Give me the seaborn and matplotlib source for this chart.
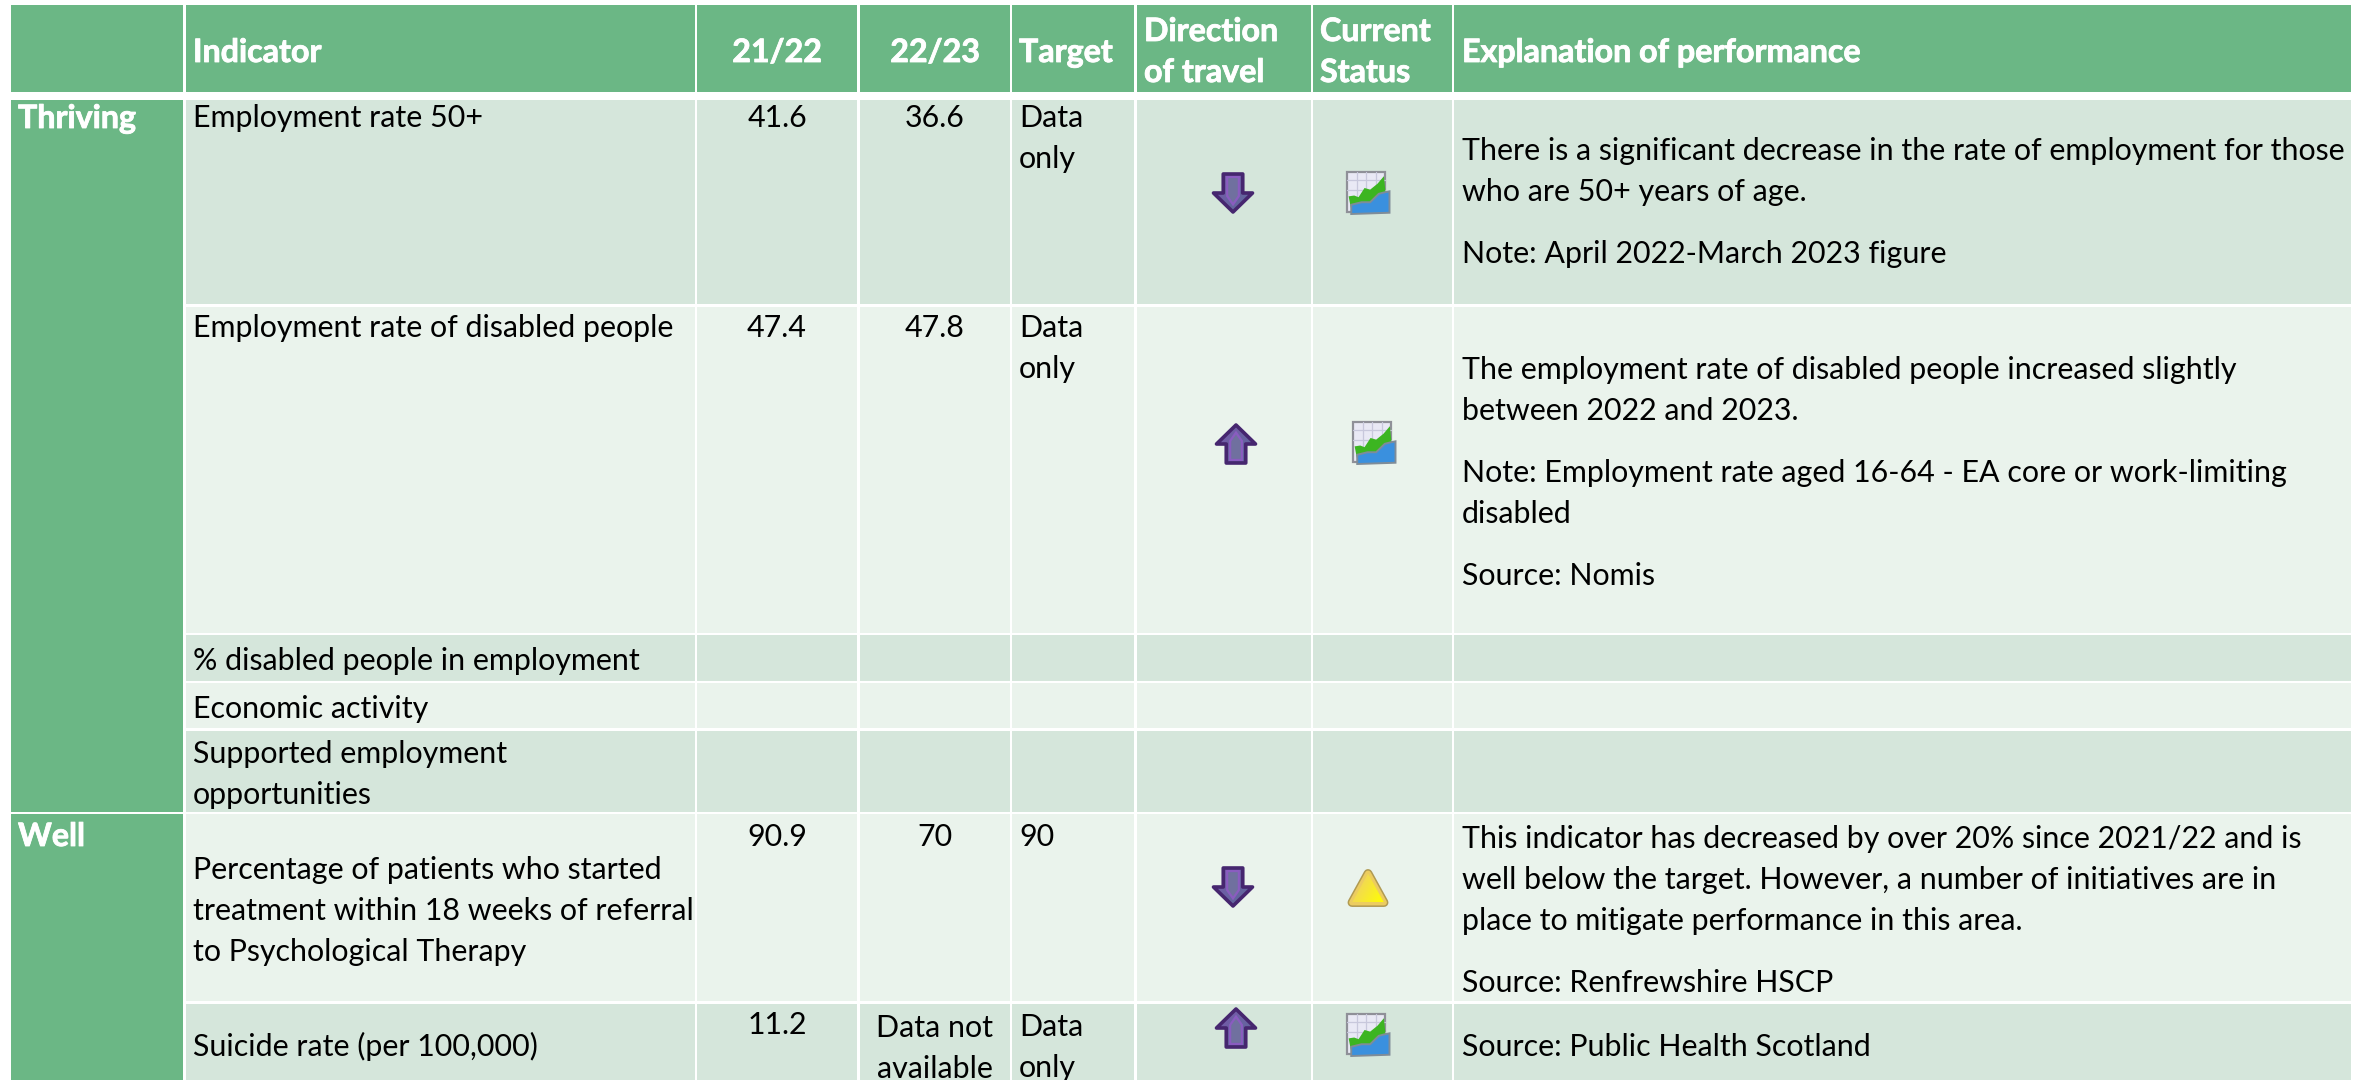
import numpy as np
import matplotlib
matplotlib.use("Agg")
import matplotlib.pyplot as plt
import matplotlib.patheffects as pe
from matplotlib.colors import ListedColormap
from matplotlib.patches import Polygon, Rectangle
from matplotlib.textpath import TextPath
from matplotlib.font_manager import FontProperties
import seaborn as sns

# ---------- content ----------
headers = ["", "Indicator", "21/22", "22/23", "Target", "Direction\nof travel", "Current\nStatus", "Explanation of performance"]
outcomes = ["Thriving", "Well"]
indicators = ["Employment rate 50+", "Employment rate of disabled people", "% disabled people in employment",
              "Economic activity", "Supported employment\nopportunities",
              "Percentage of patients who started\ntreatment within 18 weeks of referral\nto Psychological Therapy",
              "Suicide rate (per 100,000)"]
values_2122 = ["41.6", "47.4", "", "", "", "90.9", "11.2"]
values_2223 = ["36.6", "47.8", "", "", "", "70", "Data not\navailable"]
targets = ["Data\nonly", "Data\nonly", "", "", "", "90", "Data\nonly"]
directions = ["down", "up", None, None, None, "down", "up"]
statuses = ["chart", "chart", None, None, None, "warn", "chart"]
explanations = [
    ["There is a significant decrease in the rate of employment for those\nwho are 50+ years of age.", "Note: April 2022-March 2023 figure"],
    ["The employment rate of disabled people increased slightly\nbetween 2022 and 2023.",
     "Note: Employment rate aged 16-64 - EA core or work-limiting\ndisabled", "Source: Nomis"],
    [], [], [],
    ["This indicator has decreased by over 20% since 2021/22 and is\nwell below the target. However, a number of initiatives are in\nplace to mitigate performance in this area.",
     "Source: Renfrewshire HSCP"],
    ["Source: Public Health Scotland"],
]

# ---------- layout (pixels) ----------
W, H = 2366, 1080
col_spans = [(11, 183), (186, 695), (697, 857), (860, 1010), (1012, 1134), (1137, 1311), (1313, 1452), (1454, 2351)]
row_spans = [(5, 92), (100, 304), (307, 633), (635, 681), (683, 728), (731, 812), (814, 1001), (1004, 1080)]
LINE = 41
PARA = 62
GREEN, LIGHT, PALE = "#6bb785", "#d5e6db", "#eaf3ec"
row_fill = [2, 3, 2, 3, 2, 3, 2]

x_edges = [0]
for a, b in col_spans:
    x_edges += [a, b]
x_edges.append(W)
y_edges = [0]
for a, b in row_spans:
    y_edges += [a, b]
x_edges = np.array(x_edges, float)
y_edges = np.array(y_edges, float)
nx, ny = len(x_edges) - 1, len(y_edges) - 1

# cell code matrix: 0 white gap, 1 green, 2 light, 3 pale
grid = np.zeros((ny, nx), int)
for j in range(len(col_spans)):
    gx = 2 * j + 1
    grid[1, gx] = 1
    for r in range(len(row_spans) - 1):
        gy = 2 * (r + 1) + 1
        grid[gy, gx] = 1 if j == 0 else row_fill[r]
grid[3:12, 1] = 1   # merged "Thriving" cell
grid[13:, 1] = 1    # merged "Well" cell

sns.set_theme(style="white")
plt.rcParams["font.family"] = ["Lato", "DejaVu Sans"]

fig = plt.figure(figsize=(W / 100, H / 100), dpi=100)
ax = fig.add_axes([0, 0, 1, 1])
sns.heatmap(grid, ax=ax, cmap=ListedColormap(["white", GREEN, LIGHT, PALE]), vmin=0, vmax=3,
            cbar=False, xticklabels=False, yticklabels=False, square=False)
ix, iy = np.arange(nx + 1.0), np.arange(ny + 1.0)
ax.set_xscale("function", functions=(lambda v: np.interp(v, ix, x_edges), lambda v: np.interp(v, x_edges, ix)))
ax.set_yscale("function", functions=(lambda v: np.interp(v, iy, y_edges), lambda v: np.interp(v, y_edges, iy)))
ax.set_xlim(0, nx)
ax.set_ylim(ny, 0)
for axis in (ax.xaxis, ax.yaxis):
    axis.set_major_locator(matplotlib.ticker.NullLocator())
    axis.set_minor_locator(matplotlib.ticker.NullLocator())

# overlay in pixel coordinates for text and icons
ov = fig.add_axes([0, 0, 1, 1], facecolor="none")
ov.set_xlim(0, W)
ov.set_ylim(H, 0)
ov.axis("off")


def fitted_size(sample, target_px, weight):
    fp = FontProperties(family="Lato", weight=weight)
    w = TextPath((0, 0), sample, size=10, prop=fp).get_extents().width
    return 10 * target_px / w * 0.72


FS = fitted_size("Employment rate of disabled people", 476, "normal")
FSB = fitted_size("Explanation of performance", 395, "bold")


def put_lines(x, first_base, text, ha="left", color="black", weight="normal", step=LINE):
    for k, line in enumerate(text.split("\n")):
        t = ov.text(x, first_base + k * step, line, ha=ha, va="baseline", color=color,
                    fontsize=FSB if weight == "bold" else FS, fontweight=weight)
        if weight == "bold":
            t.set_path_effects([pe.withStroke(linewidth=0.6, foreground=color)])


def gradient(ext, c0, c1, patch, angle=0.0):
    n = 64
    u = np.linspace(0, 1, n)
    uu, vv = np.meshgrid(u, u)
    t = (np.cos(angle) * uu + np.sin(angle) * vv)
    t = (t - t.min()) / (t.max() - t.min())
    a, b = np.array(matplotlib.colors.to_rgb(c0)), np.array(matplotlib.colors.to_rgb(c1))
    img = a + (b - a) * t[..., None]
    im = ov.imshow(img, extent=ext, aspect="auto", interpolation="bilinear", zorder=3)
    im.set_clip_path(patch)
    ov.set_xlim(0, W)
    ov.set_ylim(H, 0)


def arrow(cx, cy, down=True):
    w, h = 39, 38
    sx = 1 if down else -1
    pts = np.array([(-.25, -.5), (.25, -.5), (.25, 0), (.5, 0), (0, .5), (-.5, 0), (-.25, 0)])
    pts = pts * [w, h * sx] + [cx, cy]
    fill = Polygon(pts, closed=True, fc="none", ec="none", transform=ov.transData)
    ov.add_patch(fill)
    gradient((cx - w / 2, cx + w / 2, cy + h / 2, cy - h / 2), "#7a58ac", "#5a6a98", fill, 0.7)
    ov.add_patch(Polygon(np.array([(-.15, -.42), (.15, -.42), (.15, .08), (0, .3), (-.15, .08)]) * [w, h * sx] + [cx, cy],
                         closed=True, fc="#70709f", ec="#8a5cc0", lw=1.6, zorder=4))
    ov.add_patch(Polygon(pts, closed=True, fc="none", ec="#46266f", lw=2.6, zorder=4, joinstyle="round"))


def chart_icon(cx, cy):
    w, h = 43, 42
    x0, y0 = cx - w / 2, cy - h / 2
    ov.add_patch(Rectangle((x0 + 1, y0), w - 5, h - 2, fc="#e9e9f5", ec="#8f9098", lw=1.6, zorder=3))
    for f in (.26, .5, .74):
        ov.plot([x0 + 1 + f * (w - 5)] * 2, [y0, y0 + h - 2], color="#c8c8dc", lw=0.9, zorder=3)
    for f in (.2, .42):
        ov.plot([x0 + 1, x0 + w - 4], [y0 + f * h] * 2, color="#c8c8dc", lw=0.9, zorder=3)
    green = [(.05, .58), (.18, .56), (.28, .60), (.42, .38), (.55, .42), (.72, .28), (.87, .10), (.92, .62), (.35, .85), (.10, .85)]
    ov.add_patch(Polygon(np.array(green) * [w, h] + [x0, y0], closed=True, fc="#3cb521", ec="none", zorder=4))
    blue = [(.11, .78), (.35, .72), (.55, .72), (.75, .52), (.9, .48), (1, .46), (1, .97), (.11, 1)]
    ov.add_patch(Polygon(np.array(blue) * [w, h] + [x0, y0], closed=True, fc="#3a90de", ec="#7f8c98", lw=1.4, zorder=5))


def warn_icon(cx, cy):
    w, h = 32, 29
    pts = np.array([(0, -.5), (.5, .5), (-.5, .5)]) * [w, h] + [cx, cy]
    clip = Polygon(pts, closed=True, fc="none", ec="none", transform=ov.transData)
    ov.add_patch(Polygon(pts, closed=True, fc="none", ec="#b09a52", lw=6.4, joinstyle="round", zorder=2.5))
    ov.add_patch(Polygon(pts, closed=True, fc="none", ec="#eccc60", lw=4.2, joinstyle="round", zorder=2.6))
    ov.add_patch(clip)
    gradient((cx - w / 2, cx + w / 2, cy + h / 2, cy - h / 2), "#ecc878", "#ffff00", clip, 0.5)


# ---------- text ----------
col_center = [(a + b) / 2 for a, b in col_spans]
col_left = [a + 7 for a, b in col_spans]
col_left[0] = 18
col_left[7] = 1462
for j, head in enumerate(headers):
    if not head:
        continue
    n = head.count("\n") + 1
    base = 62 if n == 1 else 41
    if j in (2, 3):
        put_lines(col_center[j], base, head, ha="center", color="white", weight="bold")
    else:
        put_lines(col_left[j], base, head, color="white", weight="bold", step=41)

outcome_base = [128, 846]
for name, base in zip(outcomes, outcome_base):
    put_lines(col_left[0], base, name, color="white", weight="bold")

ind_base = [127, 337, 670, 718, 763, 879, 1056]
val_base = [127, 337, 670, 717, 762, 846, 1034]
v23_base = [127, 337, 670, 717, 762, 846, 1037]
tgt_base = [127, 337, 670, 717, 762, 846, 1036]
exp_base = [160, 379, 670, 717, 762, 848, 1056]
icon_y = [193, 444, None, None, None, 887, 1028]
chart_y = [193, 443, None, None, None, 888, 1035]

for r in range(len(indicators)):
    put_lines(col_left[1], ind_base[r], indicators[r])
    if values_2122[r]:
        put_lines(col_center[2], val_base[r], values_2122[r], ha="center")
    if values_2223[r]:
        put_lines(col_center[3], v23_base[r], values_2223[r], ha="center")
    if targets[r]:
        put_lines(col_left[4], tgt_base[r], targets[r])
    y = exp_base[r]
    for para in explanations[r]:
        put_lines(col_left[7], y, para)
        y += para.count("\n") * LINE + PARA
    if directions[r]:
        arrow(1233 if directions[r] == "down" else 1236, icon_y[r], directions[r] == "down")
    if statuses[r] == "chart":
        chart_icon(1368 if r != 1 else 1374, chart_y[r])
    elif statuses[r] == "warn":
        warn_icon(1368, chart_y[r])

fig.savefig("out.png", dpi=100)
